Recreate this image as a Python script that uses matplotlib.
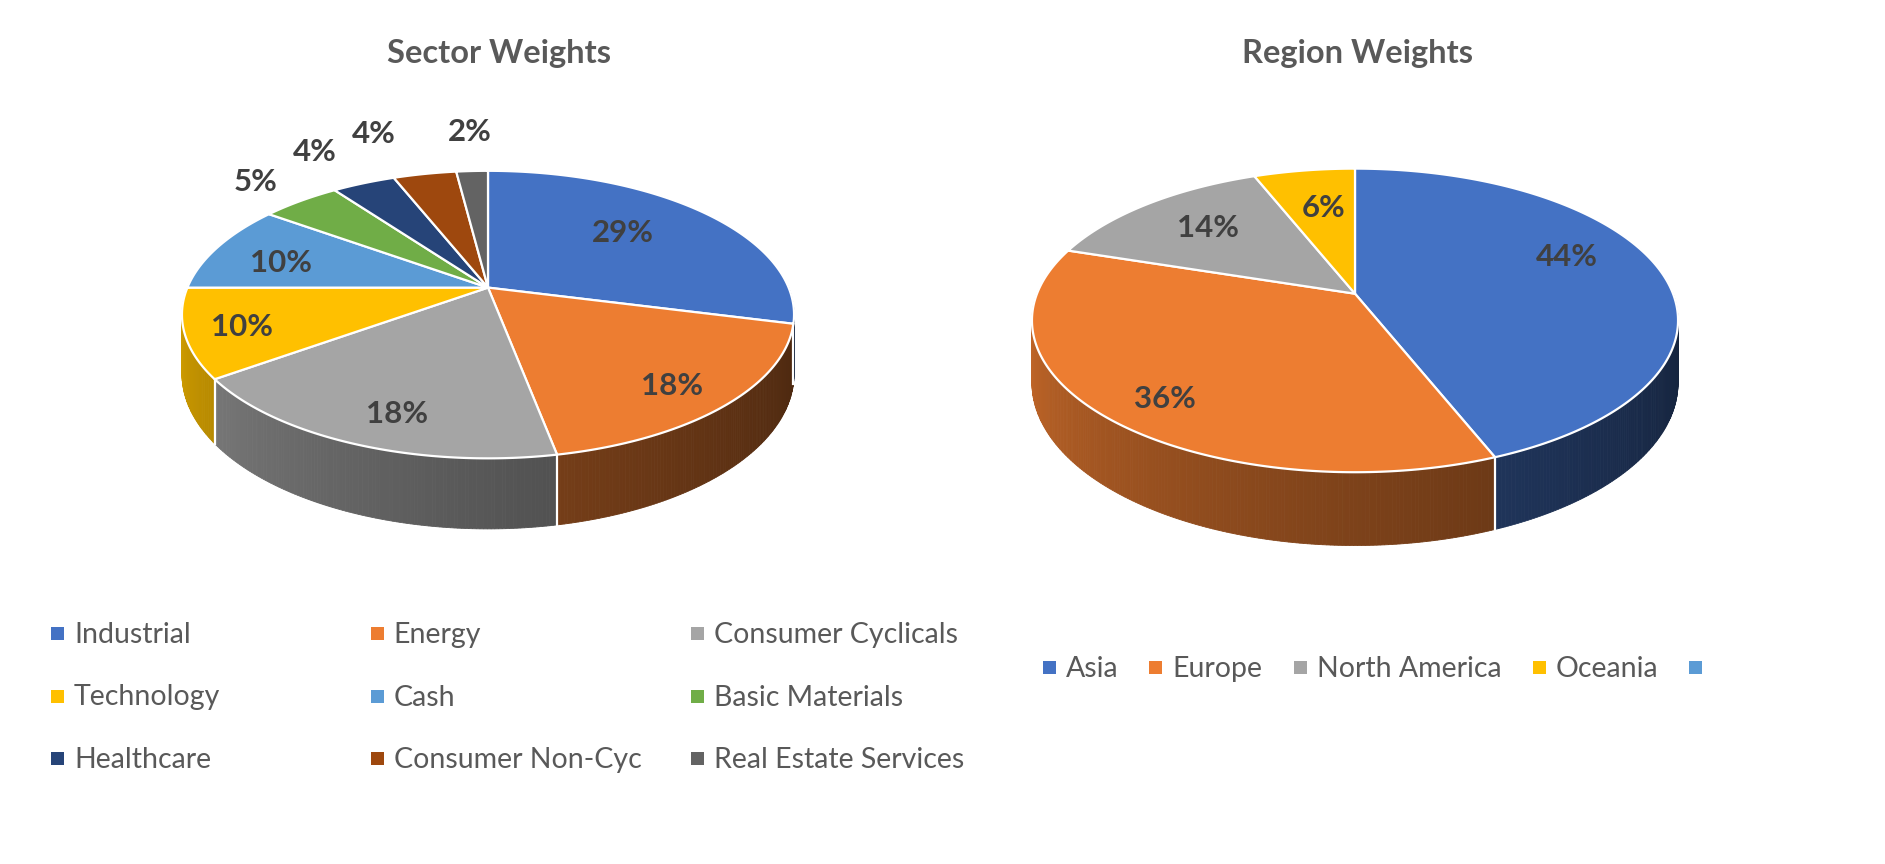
import numpy as np
import matplotlib
matplotlib.use("Agg")
import matplotlib.pyplot as plt
from matplotlib.patches import Polygon, Rectangle
from matplotlib.colors import to_rgb

plt.rcParams['font.family'] = ['Lato', 'DejaVu Sans']

# --- data ---
sector_names = ['Industrial', 'Energy', 'Consumer Cyclicals', 'Technology', 'Cash',
                'Basic Materials', 'Healthcare', 'Consumer Non-Cyc', 'Real Estate Services']
sector_pct = [29, 18, 18, 10, 10, 5, 4, 4, 2]
sector_colors = ['#4472C4', '#ED7D31', '#A5A5A5', '#FFC000', '#5B9BD5',
                 '#70AD47', '#264478', '#9E480E', '#636363']

region_names = ['Asia', 'Europe', 'North America', 'Oceania', '']
region_pct = [44, 36, 14, 6]
region_colors = ['#4472C4', '#ED7D31', '#A5A5A5', '#FFC000', '#5B9BD5']

# label placement: radius (fraction of pie radius) and angle nudge (deg)
sector_lab_r = [0.66, 0.82, 0.81, 0.82, 0.74, 1.28, 1.41, 1.50, 1.45]
sector_lab_dt = [4.6, -1.8, 3.0, 0.0, 2.5, 0.0, 1.4, 4.3, -0.5]
region_lab_r = [0.75, 0.82, 0.71, 0.68]
region_lab_dt = [10.7, 2.7, -1.6, -1.6]

# pie geometry: centre x, centre y, radius x, radius y, perspective, depth
sector_geo = (488, 287.6, 300.6, 138.7, 0.1877, 57.3)
region_geo = (1355, 293.7, 318.0, 147.1, 0.176, 60.4)

W, H = 1885, 864
fig = plt.figure(figsize=(W / 100, H / 100), dpi=100)
ax = fig.add_axes([0, 0, 1, 1])
ax.set_xlim(0, W)
ax.set_ylim(H, 0)
ax.axis('off')

LABEL_C = '#404040'
TEXT_C = '#595959'


def proj(g, r, t, down=0.0):
    cx, cy, R, S, p, D = g
    u = r * np.cos(t)
    v = r * np.sin(t)
    w = 1 + p * v
    return cx + R * u / w, cy + (-S * v + D * down) / w


def shade(t):
    phi = np.mod(t, 2 * np.pi)
    if phi < np.pi / 2:
        phi += 2 * np.pi
    s = np.clip((2 * np.pi - phi) / np.pi, 0, 1)
    return 0.3 + 0.56 * s ** 1.3


def draw_pie(g, vals, colors, lab_r, lab_dt):
    fr = np.array(vals, dtype=float) / sum(vals)
    edges = np.pi / 2 - 2 * np.pi * np.concatenate([[0], np.cumsum(fr)])

    # side walls, back to front
    segs = []
    for i in range(len(vals)):
        n = max(int(abs(edges[i + 1] - edges[i]) / 0.01), 2)
        ts = np.linspace(edges[i], edges[i + 1], n + 1)
        for t1, t2 in zip(ts[:-1], ts[1:]):
            tm = (t1 + t2) / 2
            if np.sin(tm) > 0.02:
                continue
            pts = [proj(g, 1, t1), proj(g, 1, t2), proj(g, 1, t2, 1), proj(g, 1, t1, 1)]
            col = np.array(to_rgb(colors[i])) * shade(tm)
            segs.append((np.sin(tm), pts, col))
    segs.sort(key=lambda s: -s[0])
    for _, pts, col in segs:
        ax.add_patch(Polygon(pts, closed=True, fc=col, ec=col, lw=0.6))

    # white seams on the wall
    p = g[4]
    for tb in edges[:-1]:
        if np.sin(tb) < -p:
            x1, y1 = proj(g, 1, tb)
            x2, y2 = proj(g, 1, tb, 1)
            ax.plot([x1, x2], [y1, y2], color='white', lw=1.6)

    # top faces
    for i in range(len(vals)):
        ts = np.linspace(edges[i], edges[i + 1], 200)
        pts = [(g[0], g[1])] + [proj(g, 1, t) for t in ts]
        ax.add_patch(Polygon(pts, closed=True, fc=colors[i], ec='white',
                             lw=1.6, joinstyle='round'))

    # data labels
    for i, pct in enumerate(vals):
        tm = (edges[i] + edges[i + 1]) / 2 + np.deg2rad(lab_dt[i])
        x, y = proj(g, lab_r[i], tm)
        ax.text(x, y + 11.2, f'{pct}%', ha='center', va='baseline',
                fontsize=22.5, fontweight='bold', color=LABEL_C)


draw_pie(sector_geo, sector_pct, sector_colors, sector_lab_r, sector_lab_dt)
draw_pie(region_geo, region_pct, region_colors, region_lab_r, region_lab_dt)

# titles
ax.text(499, 63, 'Sector Weights', ha='center', va='baseline', fontsize=23.5,
        fontweight='bold', color=TEXT_C)
ax.text(1357, 63, 'Region Weights', ha='center', va='baseline', fontsize=23.5,
        fontweight='bold', color=TEXT_C)

MK = 13
LEG_FS = 20.5

# sector legend: 3 equal-width columns
for i, (name, c) in enumerate(zip(sector_names, sector_colors)):
    x = 57.5 + (i % 3) * 319.8
    y = 633.5 + (i // 3) * 62.5
    ax.add_patch(Rectangle((x - MK / 2, y - MK / 2), MK, MK, fc=c, ec='none'))
    ax.text(x + 16.5, y + 9.5, name, ha='left', va='baseline', fontsize=LEG_FS, color=TEXT_C)

# region legend: one row, widths follow the text
renderer = fig.canvas.get_renderer()
ry = 667.6
items = []
for name, c in zip(region_names, region_colors):
    t = ax.text(0, ry + 9.5, name, ha='left', va='baseline', fontsize=LEG_FS, color=TEXT_C)
    wpx = t.get_window_extent(renderer).width if name else 0
    items.append((t, c, wpx))
total = sum(16.5 + w + 37.7 for _, _, w in items[:-1]) + MK
x = 1372.5 - total / 2 + MK / 2
for t, c, wpx in items:
    ax.add_patch(Rectangle((x - MK / 2, ry - MK / 2), MK, MK, fc=c, ec='none'))
    t.set_x(x + 16.5)
    x += 16.5 + wpx + 37.7

fig.savefig('out.png', dpi=100, facecolor='white')
